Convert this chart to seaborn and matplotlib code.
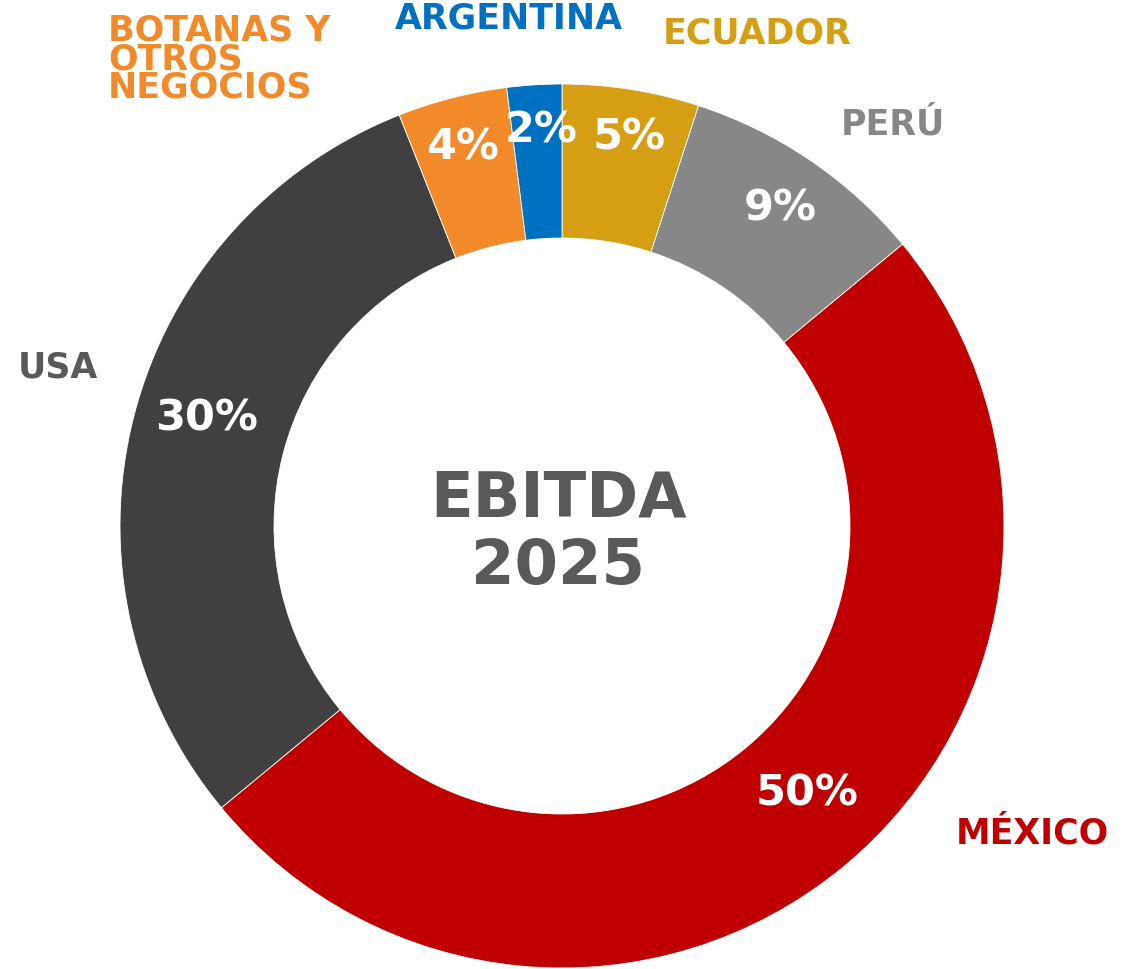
import matplotlib
matplotlib.use("Agg")
import matplotlib.pyplot as plt
import seaborn as sns

# ---- data ----
categories = ["ECUADOR", "PERÚ", "MÉXICO", "USA", "BOTANAS Y\nOTROS\nNEGOCIOS", "ARGENTINA"]
values = [5, 9, 50, 30, 4, 2]
pct_labels = ["5%", "9%", "50%", "30%", "4%", "2%"]
colors = ["#D69E12", "#878787", "#C00000", "#404040", "#F28A2A", "#0070C0"]
label_colors = ["#D69E12", "#878787", "#C00000", "#595959", "#F28A2A", "#0070C0"]
center_title = "EBITDA\n2025"

sns.set_theme(style="white")
plt.rcParams["font.family"] = ["DejaVu Sans"]

W, H = 1140, 969
fig = plt.figure(figsize=(W / 100, H / 100), dpi=100)
ax = fig.add_axes([0, 0, 1, 1])

def Y(py):
    return H - py

R_OUT, R_IN = 442, 288
cx, cy = 562, Y(526)

wedges, _ = ax.pie(values, colors=colors, startangle=90, counterclock=False,
                   radius=R_OUT, center=(cx, cy),
                   wedgeprops=dict(width=R_OUT - R_IN, edgecolor="white", linewidth=0.6))

ax.set_xlim(0, W)
ax.set_ylim(0, H)
ax.set_aspect("equal")
ax.axis("off")

# percentage labels (pixel positions)
pct_pos = [(629, 137), (780, 208), (807, 793), (207, 418), (463, 147), (541, 130)]
for lab, (px, py) in zip(pct_labels, pct_pos):
    ax.text(px, Y(py), lab, color="white", fontsize=31, fontweight="bold",
            ha="center", va="center")

# category labels
cat_specs = [
    (757, 33, "center"),
    (893, 124, "center"),
    (1032, 833, "center"),
    (58, 367, "center"),
    (108, 59, "left"),
    (509, 18, "center"),
]
for lab, col, (px, py, ha) in zip(categories, label_colors, cat_specs):
    ax.text(px, Y(py), lab, color=col, fontsize=25, fontweight="bold",
            ha=ha, va="center", linespacing=0.8)

ax.text(cx - 4, Y(533), center_title, color="#595959", fontsize=45, fontweight="bold",
        ha="center", va="center", linespacing=1.15)

fig.savefig("out.png", dpi=100, facecolor="white")
